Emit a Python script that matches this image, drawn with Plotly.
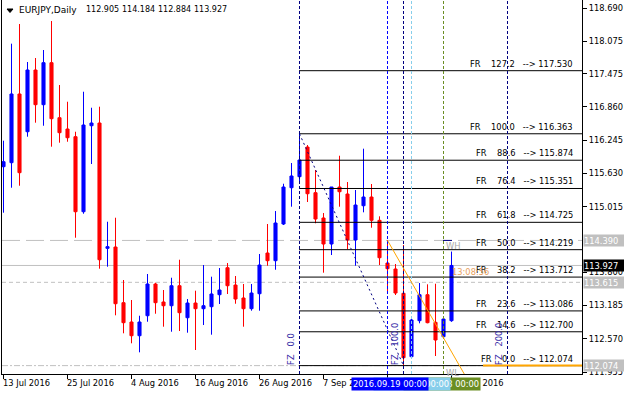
import plotly.graph_objects as go

# ---------------- data ----------------
bar_index = list(range(57))
opens = [115.754, 115.828, 117.099, 116.401, 117.543, 116.901, 117.678, 116.660, 116.451, 116.309,
         114.921, 116.512, 116.562, 114.244, 114.268, 113.238, 112.881, 112.627, 112.997, 113.584,
         113.251, 113.182, 113.552, 112.960, 113.232, 113.127, 113.164, 113.386, 113.885, 113.565,
         113.325, 113.127, 113.404, 114.157, 114.015, 114.694, 115.365, 115.569, 116.118, 115.273,
         114.805, 114.324, 115.378, 115.249, 114.398, 115.032, 115.193, 114.762, 113.972, 113.861,
         113.412, 112.239, 112.905, 113.386, 112.875, 112.609, 112.905]
highs = [116.235, 118.030, 118.394, 117.691, 117.765, 117.913, 118.449, 117.265, 116.956, 116.401,
         117.141, 116.845, 116.864, 114.736, 114.810, 113.658, 113.288, 112.997, 113.769, 113.608,
         113.473, 113.700, 114.033, 113.306, 113.460, 113.935, 113.719, 113.880, 113.972, 113.732,
         113.584, 113.584, 114.139, 114.694, 114.934, 115.439, 115.822, 116.363, 116.155, 115.693,
         114.897, 115.378, 115.957, 115.471, 115.323, 116.087, 115.434, 114.836, 114.398, 113.954,
         114.305, 112.936, 113.602, 113.578, 113.589, 112.936, 114.184]
lows = [114.903, 115.365, 115.402, 116.309, 116.568, 116.512, 116.124, 116.198, 116.216, 114.440,
        114.884, 115.804, 113.867, 113.904, 113.005, 112.672, 112.487, 112.320, 112.886, 113.034,
        112.794, 112.701, 112.714, 112.683, 112.363, 112.825, 112.646, 113.214, 113.399, 113.219,
        112.794, 113.090, 113.090, 113.922, 113.848, 114.675, 115.014, 115.489, 115.101, 114.707,
        113.793, 114.120, 115.014, 114.226, 113.922, 114.910, 114.625, 113.935, 113.423, 113.380,
        112.074, 112.239, 112.857, 112.857, 112.252, 112.609, 112.884]
closes = [115.846, 117.099, 115.643, 117.543, 116.901, 117.678, 116.642, 116.383, 116.290, 114.921,
          116.525, 116.562, 114.033, 114.274, 113.219, 112.868, 112.627, 112.881, 113.584, 113.238,
          113.182, 113.552, 113.053, 113.232, 113.127, 113.182, 113.399, 113.473, 113.552, 113.306,
          113.127, 113.417, 113.935, 114.015, 114.712, 115.378, 115.582, 115.878, 115.254, 114.786,
          114.324, 115.378, 115.291, 114.398, 115.045, 115.193, 114.762, 114.070, 113.867, 113.417,
          112.220, 112.918, 113.386, 112.868, 112.548, 112.936, 113.927]

date_tick_bars = [0, 8, 16, 24, 32, 40, 48, 56]
date_tick_text = ["13 Jul 2016", "25 Jul 2016", "4 Aug 2016", "16 Aug 2016",
                  "26 Aug 2016", "7 Sep 2016", "19 Sep 2016", "29 Sep 2016"]

price_ticks = [118.690, 118.075, 117.475, 116.860, 116.245, 115.630, 115.015,
               113.800, 113.185, 112.570, 111.955]

fib_levels = ["127.2", "100.0", "88.6", "76.4", "61.8", "50.0", "38.2", "23.6", "14.6", "0.0"]
fib_prices = [117.530, 116.363, 115.874, 115.351, 114.725, 114.219, 113.712, 113.086, 112.700, 112.074]
fib_start_bar = 37
fib_end_bar = 50

fz_bars = [37, 50, 63]
fz_labels = ["0.0", "100.0", "200.0"]

vline_bars = [48, 51, 55]
vline_colors = ["#0000FF", "#87CEEB", "#6B8E23"]
vline_labels = ["2016.09.19 00:00", "2016.09.22 00:00", "2016.09.28 00:00"]

title_name = "EURJPY,Daily"
title_values = ["112.905", "114.184", "112.884", "113.927"]

week_high = 114.390
bid_price = 113.927
ask_line = 113.615
week_low = 112.074

trend_start = (48, 114.390)
trend_end = (58, 111.815)

# ---------------- geometry helpers ----------------
X0, X1 = -0.1875, 72.3125
Y0, Y1 = 111.919, 118.838
PW, PH = 580, 374


def bx(px):
    """pixel x -> bar coordinate"""
    return (px - 3.5) / 8.0


FONT = "DejaVu Sans"
FS = 8.3
nbsp = "\u00a0"

fig = go.Figure()
fig.add_trace(go.Candlestick(
    x=bar_index, open=opens, high=highs, low=lows, close=closes,
    increasing=dict(line=dict(color="#0000FF", width=1), fillcolor="#0000FF"),
    decreasing=dict(line=dict(color="#FF0000", width=1), fillcolor="#FF0000"),
    whiskerwidth=0, showlegend=False, hoverinfo="skip"))

shapes = []
ann = []

# gray horizontal lines
shapes.append(dict(type="line", xref="x", yref="y", x0=X0, x1=X1, y0=week_high, y1=week_high,
                   line=dict(color="#C0C0C0", width=1, dash="18px,6px"), layer="below"))
shapes.append(dict(type="line", xref="x", yref="y", x0=X0, x1=X1, y0=bid_price, y1=bid_price,
                   line=dict(color="#C0C0C0", width=1), layer="below"))
shapes.append(dict(type="line", xref="x", yref="y", x0=X0, x1=X1, y0=ask_line, y1=ask_line,
                   line=dict(color="#C0C0C0", width=1, dash="4px,3px"), layer="below"))
shapes.append(dict(type="line", xref="x", yref="y", x0=X0, x1=X1, y0=week_low, y1=week_low,
                   line=dict(color="#C0C0C0", width=1, dash="6px,2px,2px,2px"), layer="below"))

# fibo levels
for lv, pr in zip(fib_levels, fib_prices):
    shapes.append(dict(type="line", xref="x", yref="y", x0=fib_start_bar - 0.06, x1=X1, y0=pr, y1=pr,
                       line=dict(color="#000000", width=1)))
    ann.append(dict(xref="x", yref="y", x=bx(574), y=pr, xanchor="right", yanchor="bottom",
                    text="FR" + nbsp * 4 + lv + nbsp * 3 + "-->" + nbsp + f"{pr:.3f}",
                    showarrow=False, font=dict(family=FONT, size=FS, color="#000000"),
                    borderpad=0, yshift=1))

# orange level segment
shapes.append(dict(type="line", xref="x", yref="y", x0=bx(483), x1=X1, y0=week_low, y1=week_low,
                   line=dict(color="#FFA500", width=2)))

# fibo base dotted line
shapes.append(dict(type="line", xref="x", yref="y", x0=fib_start_bar, x1=fib_end_bar,
                   y0=fib_prices[1], y1=fib_prices[-1],
                   line=dict(color="#000080", width=1, dash="2px,3px")))

# fibo time zones
for b, lab in zip(fz_bars, fz_labels):
    shapes.append(dict(type="line", xref="x", yref="paper", x0=b, x1=b, y0=0, y1=1,
                       line=dict(color="#000080", width=1, dash="3px,2px")))
    ann.append(dict(xref="x", yref="y", x=b, y=112.06, xanchor="right", yanchor="bottom",
                    text="FZ" + nbsp * 3 + lab, textangle=-90, showarrow=False, xshift=-2,
                    font=dict(family=FONT, size=FS, color="#3A2EA8"), borderpad=0))

# dated vertical lines
for b, c in zip(vline_bars, vline_colors):
    shapes.append(dict(type="line", xref="x", yref="paper", x0=b, x1=b, y0=0, y1=1,
                       line=dict(color=c, width=1, dash="3px,2px")))

# trend line (orange)
shapes.append(dict(type="line", xref="x", yref="y", x0=trend_start[0], y0=trend_start[1],
                   x1=trend_end[0], y1=trend_end[1], line=dict(color="#FFA500", width=1)))

# WH marker
shapes.append(dict(type="line", xref="x", yref="y", x0=bx(443), x1=bx(452), y0=week_high, y1=week_high,
                   line=dict(color="#000080", width=1)))
ann.append(dict(xref="x", yref="y", x=bx(445), y=week_high, xanchor="left", yanchor="top",
                text="WH", showarrow=False, font=dict(family=FONT, size=FS, color="#A8A8A8"), borderpad=0))
ann.append(dict(xref="x", yref="paper", x=bx(445), y=0, xanchor="left", yanchor="bottom",
                text="WL", showarrow=False, font=dict(family=FONT, size=FS, color="#A8A8A8"),
                borderpad=0, yshift=-5))
ann.append(dict(xref="x", yref="y", x=bx(451), y=bid_price, xanchor="left", yanchor="top",
                text="13:08:56", showarrow=False, font=dict(family=FONT, size=FS, color="#E8A060"),
                borderpad=0, yshift=-1))

# title (pieces placed at their measured pixel positions)
title_px = [18, 85, 121, 157, 193]
title_sizes = [9.0, 8.0, 8.0, 8.0, 8.0]
for px, t, s in zip(title_px, [title_name] + title_values, title_sizes):
    ann.append(dict(xref="paper", yref="paper", x=(px - 2) / PW, y=1, xanchor="left", yanchor="top",
                    text=t, showarrow=False,
                    font=dict(family=FONT, size=s, color="#000000"), borderpad=0, yshift=-4))
shapes.append(dict(type="path", xref="paper", yref="paper",
                   path=f"M {5/PW} {1-9/PH} L {11/PW} {1-9/PH} L {8/PW} {1-12.5/PH} Z",
                   fillcolor="#000000", line=dict(color="#000000", width=1)))

# x labels
for b, t in zip(date_tick_bars, date_tick_text):
    ann.append(dict(xref="x", yref="paper", x=b, y=0, xanchor="left", yanchor="top",
                    text=t.replace(" ", nbsp), showarrow=False, xshift=-2, yshift=-3,
                    font=dict(family=FONT, size=FS, color="#000000"), borderpad=0))

# vertical line time labels (olive bottom, blue top)
ann.append(dict(xref="x", yref="paper", x=bx(481), y=0, xanchor="right", yanchor="top",
                text=vline_labels[2].replace(" ", nbsp), showarrow=False, yshift=-3,
                bgcolor=vline_colors[2], font=dict(family=FONT, size=FS, color="#FFFFFF"), borderpad=1))
ann.append(dict(xref="x", yref="paper", x=bx(451), y=0, xanchor="right", yanchor="top",
                text=vline_labels[1].replace(" ", nbsp), showarrow=False, yshift=-3,
                bgcolor=vline_colors[1], font=dict(family=FONT, size=FS, color="#FFFFFF"), borderpad=1))
ann.append(dict(xref="x", yref="paper", x=bx(351), y=0, xanchor="left", yanchor="top",
                text=vline_labels[0].replace(" ", nbsp), showarrow=False, yshift=-3,
                bgcolor=vline_colors[0], font=dict(family=FONT, size=FS, color="#FFFFFF"), borderpad=1))

# right-axis price boxes
for p, bg in [(week_high, "#C0C0C0"), (ask_line, "#C0C0C0"), (week_low, "#C0C0C0"), (bid_price, "#000000")]:
    ann.append(dict(xref="paper", yref="y", x=1, y=p, xanchor="left", yanchor="middle",
                    text=f"{p:.3f}", showarrow=False, xshift=1, width=40, height=11, align="left",
                    bgcolor=bg, font=dict(family=FONT, size=FS, color="#FFFFFF"), borderpad=0))

fig.update_layout(
    width=624, height=395,
    margin=dict(l=2, r=42, t=0, b=21),
    paper_bgcolor="#FFFFFF", plot_bgcolor="#FFFFFF",
    boxgap=0.45,
    showlegend=False,
    shapes=shapes, annotations=ann,
    font=dict(family=FONT, size=FS, color="#000000"),
    xaxis=dict(range=[X0, X1], type="linear", rangeslider=dict(visible=False),
               showgrid=False, zeroline=False, showline=True, linecolor="#000000", linewidth=1,
               tickmode="array", tickvals=[b - 0.06 for b in date_tick_bars], ticktext=[""] * len(date_tick_bars),
               ticks="outside", ticklen=4, tickcolor="#000000", fixedrange=True),
    yaxis=dict(range=[Y0, Y1], side="right", showgrid=False, zeroline=False,
               showline=True, mirror=True, linecolor="#000000", linewidth=1,
               tickmode="array", tickvals=price_ticks, ticktext=[f"{v:.3f}" for v in price_ticks],
               ticks="outside", ticklen=4, tickcolor="#000000",
               tickfont=dict(family=FONT, size=FS, color="#000000"), fixedrange=True),
)

fig.write_html("out.html")
